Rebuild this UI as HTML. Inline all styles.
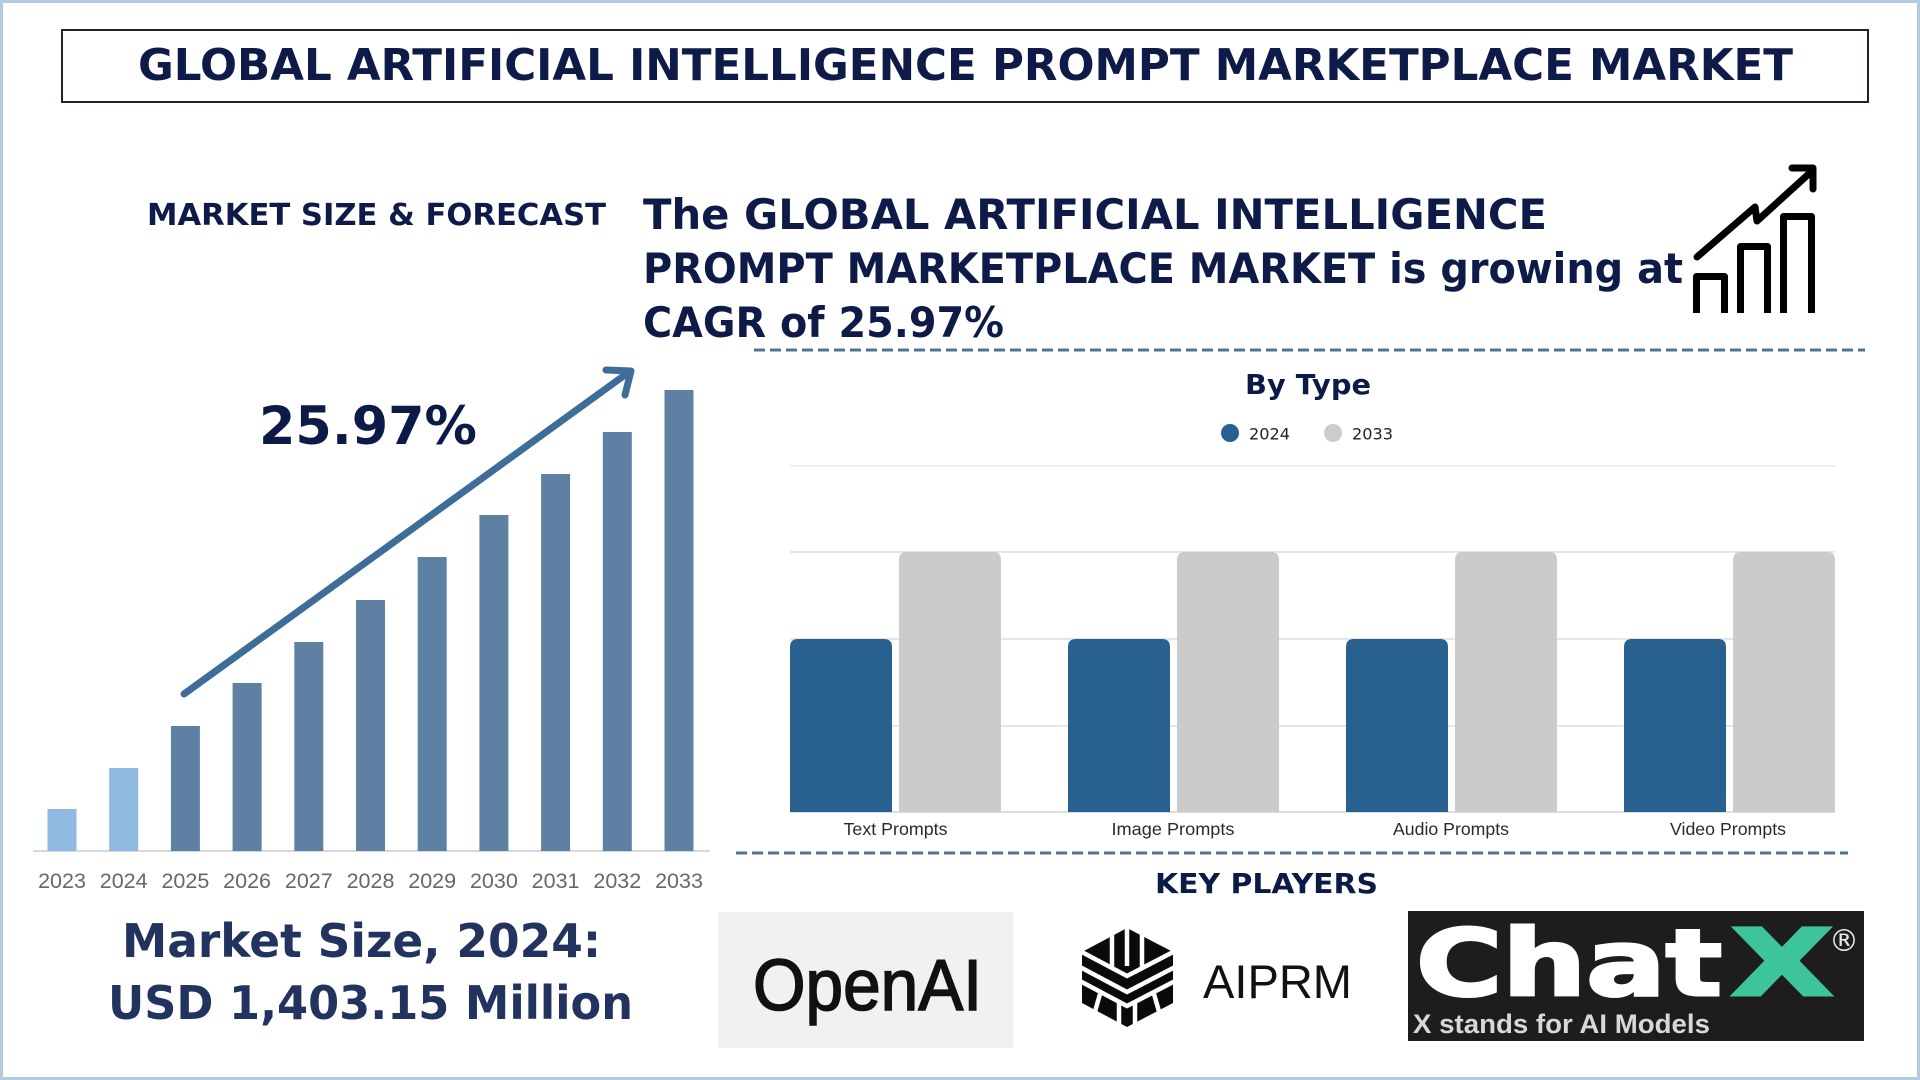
<!DOCTYPE html>
<html>
<head>
<meta charset="utf-8">
<style>
  html, body { margin: 0; padding: 0; background: #ffffff; }
  body { width: 1920px; height: 1080px; overflow: hidden; }
  svg { display: block; }
</style>
</head>
<body>
<svg width="1920" height="1080" viewBox="0 0 1920 1080" xmlns="http://www.w3.org/2000/svg">
  <!-- background & outer frame -->
  <rect x="0" y="0" width="1920" height="1080" fill="#ffffff"/>
  <rect x="1.5" y="1.5" width="1917" height="1077" fill="none" stroke="#b2cae2" stroke-width="3"/>

  <!-- title box -->
  <rect x="62" y="30" width="1806" height="72" fill="none" stroke="#1c2233" stroke-width="2"/>
  <text x="138" y="80" font-family="DejaVu Sans, sans-serif" font-weight="bold" font-size="44" fill="#0e1b48" textLength="1655" lengthAdjust="spacingAndGlyphs">GLOBAL ARTIFICIAL INTELLIGENCE PROMPT MARKETPLACE MARKET</text>

  <!-- market size & forecast -->
  <text x="147" y="225" font-family="DejaVu Sans, sans-serif" font-weight="bold" font-size="30" fill="#0e1b48" textLength="459" lengthAdjust="spacingAndGlyphs">MARKET SIZE &amp; FORECAST</text>

  <!-- headline -->
  <g font-family="DejaVu Sans, sans-serif" font-weight="bold" font-size="42" fill="#0e1b48">
    <text x="643" y="229" textLength="904" lengthAdjust="spacingAndGlyphs">The GLOBAL ARTIFICIAL INTELLIGENCE</text>
    <text x="643" y="283" textLength="1040" lengthAdjust="spacingAndGlyphs">PROMPT MARKETPLACE MARKET is growing at</text>
    <text x="643" y="337" textLength="361" lengthAdjust="spacingAndGlyphs">CAGR of 25.97%</text>
  </g>

  <!-- growth icon -->
  <g fill="none" stroke="#000" stroke-width="7" stroke-linejoin="round" stroke-linecap="butt">
    <path d="M1696.5,313 V276.5 H1724.5 V313"/>
    <path d="M1740.5,313 V246.5 H1767.5 V313"/>
    <path d="M1783.5,313 V216.5 H1811.5 V313"/>
  </g>
  <g fill="none" stroke="#000" stroke-width="7" stroke-linejoin="round" stroke-linecap="round">
    <polyline points="1697,257 1755,207 1757,221 1812,171"/>
    <polyline points="1792,168 1813,168 1813,189"/>
  </g>

  <!-- dashed separators -->
  <line x1="754" y1="350" x2="1865" y2="350" stroke="#4a7494" stroke-width="3" stroke-dasharray="11 5"/>
  <line x1="736" y1="853" x2="1848" y2="853" stroke="#4a7494" stroke-width="3" stroke-dasharray="11 5"/>

  <!-- LEFT CHART -->
  <line x1="33" y1="851" x2="710" y2="851" stroke="#d5d8dc" stroke-width="2"/>
  <g>
    <rect x="47.5" y="809" width="29" height="42" fill="#8fb9e1"/>
    <rect x="109.2" y="768" width="29" height="83" fill="#8fb9e1"/>
    <rect x="170.9" y="726" width="29" height="125" fill="#5e80a2"/>
    <rect x="232.6" y="683" width="29" height="168" fill="#5e80a2"/>
    <rect x="294.3" y="642" width="29" height="209" fill="#5e80a2"/>
    <rect x="356.0" y="600" width="29" height="251" fill="#5e80a2"/>
    <rect x="417.7" y="557" width="29" height="294" fill="#5e80a2"/>
    <rect x="479.4" y="515" width="29" height="336" fill="#5e80a2"/>
    <rect x="541.1" y="474" width="29" height="377" fill="#5e80a2"/>
    <rect x="602.8" y="432" width="29" height="419" fill="#5e80a2"/>
    <rect x="664.5" y="390" width="29" height="461" fill="#5e80a2"/>
  </g>
  <g font-family="Liberation Sans, Arial, sans-serif" font-size="21.5" fill="#676767" text-anchor="middle">
    <text x="62" y="888">2023</text>
    <text x="123.7" y="888">2024</text>
    <text x="185.4" y="888">2025</text>
    <text x="247.1" y="888">2026</text>
    <text x="308.8" y="888">2027</text>
    <text x="370.5" y="888">2028</text>
    <text x="432.2" y="888">2029</text>
    <text x="493.9" y="888">2030</text>
    <text x="555.6" y="888">2031</text>
    <text x="617.3" y="888">2032</text>
    <text x="679" y="888">2033</text>
  </g>
  <!-- growth arrow -->
  <g fill="none" stroke="#3d6d98" stroke-width="7" stroke-linecap="round" stroke-linejoin="round">
    <line x1="184" y1="694" x2="629" y2="372"/>
    <polyline points="606,370 631,371 625,395"/>
  </g>
  <text x="259" y="444" font-family="DejaVu Sans, sans-serif" font-weight="bold" font-size="53" fill="#0c1a47" textLength="218" lengthAdjust="spacingAndGlyphs">25.97%</text>

  <!-- market size text -->
  <g font-family="DejaVu Sans, sans-serif" font-weight="bold" font-size="46" fill="#22335f">
    <text x="122" y="957" textLength="479" lengthAdjust="spacingAndGlyphs">Market Size, 2024:</text>
    <text x="108" y="1019" textLength="525" lengthAdjust="spacingAndGlyphs">USD 1,403.15 Million</text>
  </g>

  <!-- RIGHT CHART -->
  <text x="1308" y="394" text-anchor="middle" font-family="DejaVu Sans, sans-serif" font-weight="bold" font-size="28" fill="#0c1a47" textLength="126" lengthAdjust="spacingAndGlyphs">By Type</text>
  <circle cx="1230" cy="433" r="9" fill="#28608f"/>
  <text x="1249" y="439.5" font-family="DejaVu Sans, sans-serif" font-size="16" fill="#222" textLength="41" lengthAdjust="spacingAndGlyphs">2024</text>
  <circle cx="1333" cy="433" r="9" fill="#cccccc"/>
  <text x="1352" y="439.5" font-family="DejaVu Sans, sans-serif" font-size="16" fill="#222" textLength="41" lengthAdjust="spacingAndGlyphs">2033</text>

  <g stroke-width="1.5">
    <line x1="790" y1="466" x2="1835" y2="466" stroke="#ececec"/>
    <line x1="790" y1="552" x2="1835" y2="552" stroke="#dedede"/>
    <line x1="790" y1="639" x2="1835" y2="639" stroke="#dedede"/>
    <line x1="790" y1="726" x2="1835" y2="726" stroke="#dedede"/>
    <line x1="790" y1="812" x2="1835" y2="812" stroke="#d2d2d2"/>
  </g>
  <g>
    <!-- Text Prompts -->
    <path d="M790,812 V647 Q790,639 798,639 H884 Q892,639 892,647 V812 Z" fill="#28608f"/>
    <path d="M899,812 V560 Q899,552 907,552 H993 Q1001,552 1001,560 V812 Z" fill="#cbcbcb"/>
    <!-- Image Prompts -->
    <path d="M1068,812 V647 Q1068,639 1076,639 H1162 Q1170,639 1170,647 V812 Z" fill="#28608f"/>
    <path d="M1177,812 V560 Q1177,552 1185,552 H1271 Q1279,552 1279,560 V812 Z" fill="#cbcbcb"/>
    <!-- Audio Prompts -->
    <path d="M1346,812 V647 Q1346,639 1354,639 H1440 Q1448,639 1448,647 V812 Z" fill="#28608f"/>
    <path d="M1455,812 V560 Q1455,552 1463,552 H1549 Q1557,552 1557,560 V812 Z" fill="#cbcbcb"/>
    <!-- Video Prompts -->
    <path d="M1624,812 V647 Q1624,639 1632,639 H1718 Q1726,639 1726,647 V812 Z" fill="#28608f"/>
    <path d="M1733,812 V560 Q1733,552 1741,552 H1827 Q1835,552 1835,560 V812 Z" fill="#cbcbcb"/>
  </g>
  <g font-family="Liberation Sans, Arial, sans-serif" font-size="17.5" fill="#2b2b2b" text-anchor="middle">
    <text x="895.5" y="835" textLength="104" lengthAdjust="spacingAndGlyphs">Text Prompts</text>
    <text x="1173" y="835" textLength="123" lengthAdjust="spacingAndGlyphs">Image Prompts</text>
    <text x="1451" y="835" textLength="116" lengthAdjust="spacingAndGlyphs">Audio Prompts</text>
    <text x="1728" y="835" textLength="116" lengthAdjust="spacingAndGlyphs">Video Prompts</text>
  </g>

  <!-- KEY PLAYERS -->
  <text x="1155" y="893" font-family="DejaVu Sans, sans-serif" font-weight="bold" font-size="28" fill="#0c1a47" textLength="223" lengthAdjust="spacingAndGlyphs">KEY PLAYERS</text>

  <!-- OpenAI -->
  <rect x="718" y="912" width="295" height="136" fill="#f1f1f1"/>
  <text x="753" y="1010" font-family="Liberation Sans, Arial, sans-serif" font-size="72" fill="#111" stroke="#111" stroke-width="1.6" textLength="229" lengthAdjust="spacingAndGlyphs">OpenAI</text>

  <!-- AIPRM -->
  <polygon points="1127,928 1173,952 1173,1003 1127,1027 1082,1003 1082,952" fill="#0a0a0a"/>
  <g fill="none" stroke="#ffffff" stroke-width="4.5" stroke-linejoin="miter">
    <line x1="1112" y1="924" x2="1112" y2="968"/>
    <line x1="1127" y1="924" x2="1127" y2="966"/>
    <line x1="1142" y1="924" x2="1142" y2="968"/>
    <polyline points="1078,950 1127,976 1177,950"/>
    <polyline points="1078,966 1127,992 1177,966"/>
    <polyline points="1078,980 1127,1006 1177,980"/>
    <line x1="1119" y1="1003" x2="1119" y2="1031"/>
    <line x1="1135" y1="1003" x2="1135" y2="1031"/>
    <line x1="1100" y1="994" x2="1092" y2="1022"/>
    <line x1="1154" y1="994" x2="1162" y2="1022"/>
  </g>
  <text x="1203" y="998" font-family="Liberation Sans, Arial, sans-serif" font-size="47" fill="#111" textLength="149" lengthAdjust="spacingAndGlyphs">AIPRM</text>

  <!-- ChatX -->
  <rect x="1408" y="911" width="456" height="130" fill="#1d1d1d"/>
  <text x="1416" y="995" font-family="DejaVu Sans, sans-serif" font-weight="bold" font-size="92" fill="#ffffff" stroke="#ffffff" stroke-width="3" textLength="306" lengthAdjust="spacingAndGlyphs">Chat</text>
  <text x="1731" y="995" font-family="DejaVu Sans, sans-serif" font-weight="bold" font-size="92" fill="#3dc49b" stroke="#3dc49b" stroke-width="3" textLength="102" lengthAdjust="spacingAndGlyphs">X</text>
  <text x="1829" y="951" font-family="DejaVu Sans, sans-serif" font-size="30" fill="#e8e8e8">®</text>
  <text x="1413" y="1033" font-family="Liberation Sans, Arial, sans-serif" font-weight="bold" font-size="27" fill="#d8d8d8" textLength="297" lengthAdjust="spacingAndGlyphs">X stands for AI Models</text>
</svg>
</body>
</html>
